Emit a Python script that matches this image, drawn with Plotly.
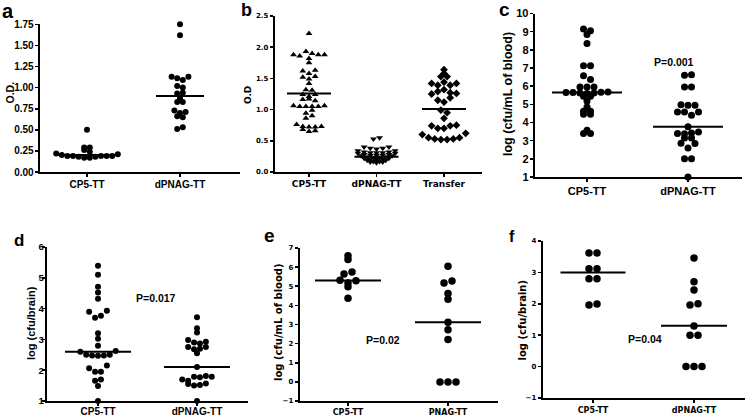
import plotly.graph_objects as go

W, H = 747, 419

# ---------------- data ----------------
# Each group lists its dots row by row (top to bottom, left to right inside a row).
a_categories = ["CP5-TT", "dPNAG-TT"]
a_cp5_tt = [[0.50], [0.29, 0.29], [0.26, 0.24],
            [0.22, 0.20, 0.19, 0.19, 0.18, 0.17, 0.17, 0.18, 0.19, 0.19, 0.19, 0.21]]
a_dpnag_tt = [[1.75], [1.62], [1.13, 1.11, 1.09, 1.13], [1.02, 1.00], [0.93, 0.94],
              [0.87], [0.83, 0.83], [0.73, 0.70, 0.71], [0.66, 0.65], [0.51, 0.53]]
a_medians = [0.20, 0.90]
a_yticks = [0, 0.25, 0.5, 0.75, 1.0, 1.25, 1.5, 1.75]

b_categories = ["CP5-TT", "dPNAG-TT", "Transfer"]
b_cp5_tt = [[2.22], [1.88, 1.86, 1.93, 1.90, 1.88, 1.88], [1.82], [1.75],
            [1.62, 1.58, 1.63], [1.52, 1.49, 1.53], [1.42], [1.32, 1.31],
            [1.24, 1.21, 1.24], [1.16, 1.17, 1.14], [1.06, 1.05, 1.05, 1.05, 1.05, 1.06],
            [0.94, 0.99], [0.86, 0.90], [0.76, 0.73, 0.72, 0.72, 0.73], [0.68, 0.65, 0.66]]
b_dpnag_tt = [[0.53, 0.55], [0.40, 0.38, 0.37, 0.38, 0.40],
              [0.34, 0.32, 0.31, 0.31, 0.31, 0.32, 0.34],
              [0.30, 0.28, 0.27, 0.27, 0.27, 0.28, 0.30],
              [0.26, 0.24, 0.23, 0.23, 0.24, 0.26],
              [0.22, 0.20, 0.20, 0.20, 0.22], [0.19, 0.17, 0.17, 0.19],
              [0.16, 0.15, 0.16]]
b_transfer = [[1.64], [1.58], [1.53, 1.53], [1.42, 1.39, 1.44, 1.39, 1.42],
              [1.25, 1.29, 1.32, 1.27, 1.26], [1.15, 1.12, 1.19], [0.99, 0.95], [0.86],
              [0.74, 0.70, 0.70, 0.74, 0.75], [0.60, 0.55, 0.53, 0.52, 0.52, 0.53, 0.55, 0.62]]
b_medians = [1.26, 0.245, 1.01]
b_yticks = [0, 0.5, 1.0, 1.5, 2.0, 2.5]

c_categories = ["CP5-TT", "dPNAG-TT"]
c_cp5_tt = [[9.15, 9.05], [8.85], [8.35], [7.12, 7.12], [6.57, 6.37], [5.96, 5.96, 5.96],
            [5.65, 5.65, 5.62, 5.60, 5.62, 5.67, 5.68], [5.45, 5.45], [5.19], [4.86],
            [4.62, 4.62], [4.45, 4.45], [3.57], [3.39, 3.39]]
c_dpnag_tt = [[6.60, 6.63], [5.96, 5.96], [4.98, 4.95, 4.95], [4.58, 4.58, 4.40, 4.58],
              [3.76], [3.40, 3.38, 3.42, 3.48], [3.15, 3.15], [2.86, 2.60, 2.84],
              [2.0, 2.0], [1.0]]
c_medians = [5.65, 3.76]
c_yticks = list(range(1, 11))

d_categories = ["CP5-TT", "dPNAG-TT"]
d_cp5_tt = [[5.39], [5.10], [4.71], [4.52], [4.32], [3.90, 3.70, 3.77, 3.93], [3.20],
            [3.02], [2.79], [2.60, 2.50, 2.48, 2.47, 2.48, 2.50, 2.62],
            [2.06, 1.95, 1.95, 2.15], [1.66, 1.70], [1.49], [1.0]]
d_dpnag_tt = [[3.72], [3.36], [3.22], [2.98, 2.90, 2.87, 2.92], [2.75, 2.68, 2.70, 2.75],
              [2.55], [2.10], [1.70, 1.66, 1.79, 1.77, 1.81, 1.79], [1.55, 1.50, 1.52, 1.57],
              [1.0]]
d_medians = [2.60, 2.10]
d_yticks = list(range(1, 7))

e_categories = ["CP5-TT", "PNAG-TT"]
e_cp5_tt = [[6.60], [6.40], [5.64, 5.74], [5.32, 5.17, 5.29], [4.98], [4.37]]
e_pnag_tt = [[6.05], [5.17, 5.27], [4.62], [4.32], [3.12], [2.72], [2.22], [0, 0, 0]]
e_medians = [5.30, 3.12]
e_yticks = list(range(-1, 8))

f_categories = ["CP5-TT", "dPNAG-TT"]
f_cp5_tt = [[3.62, 3.62], [3.12, 3.12], [2.80, 2.80], [1.96, 1.99]]
f_dpnag_tt = [[3.46], [2.70], [2.44], [1.96, 2.00], [1.29], [1.0, 1.0], [0, 0, 0]]
f_medians = [3.00, 1.30]
f_yticks = list(range(-1, 5))

# ---------------- styles / layout ----------------
ARIAL = "Liberation Sans, Arial, sans-serif"
DEJA = "DejaVu Sans, sans-serif"


def fnt(fam, size):
    return dict(family=fam, size=size, color="black", weight="bold")


panels = [
    dict(letter="a", cats=a_categories, groups=[a_cp5_tt, a_dpnag_tt], medians=a_medians,
         symbols=["circle", "circle"], msize=6, dot_px=5.6, half_px=[33, 24],
         x0=40, x1=240, cat0=87, step=93, ybot=172, ytop=24.3, yr=[0, 1.75],
         yticks=a_yticks, fmt=".2f", yfont=fnt(ARIAL, 10), xfont=fnt(ARIAL, 10),
         xstand=-1, ystand=-1,
         title="O.D.", tfont=fnt(ARIAL, 10.5), tpos=(9.5, 93),
         lpos=(0, 11), lsize=20),
    dict(letter="b", cats=b_categories, groups=[b_cp5_tt, b_dpnag_tt, b_transfer],
         medians=b_medians, symbols=["triangle-up", "triangle-down", "diamond"], msize=6,
         dot_px=6.2, half_px=[22, 22, 22],
         x0=275, x1=482, cat0=309, step=67.5, ybot=172, ytop=16, yr=[0, 2.5],
         yticks=b_yticks, fmt=".1f", yfont=fnt(DEJA, 7), xfont=fnt(DEJA, 9),
         xstand=-1, ystand=0,
         title="O.D", tfont=fnt(DEJA, 9), tpos=(248, 95),
         lpos=(239, 10), lsize=18),
    dict(letter="c", cats=c_categories, groups=[c_cp5_tt, c_dpnag_tt], medians=c_medians,
         symbols=["circle", "circle"], msize=7, dot_px=7, half_px=[35, 35],
         x0=535, x1=742, cat0=587, step=101, ybot=177, ytop=13.5, yr=[1, 10],
         yticks=c_yticks, fmt="d", yfont=fnt(ARIAL, 11), xfont=fnt(ARIAL, 11),
         xstand=-1, ystand=-1,
         title="log (cfu/mL of blood)", tfont=fnt(ARIAL, 12.5), tpos=(508, 94),
         lpos=(497, 9.5), lsize=19),
    dict(letter="d", cats=d_categories, groups=[d_cp5_tt, d_dpnag_tt], medians=d_medians,
         symbols=["circle", "circle"], msize=6, dot_px=5.9, half_px=[33, 33],
         x0=47, x1=248, cat0=98, step=99, ybot=401, ytop=247, yr=[1, 6],
         yticks=d_yticks, fmt="d", yfont=fnt(ARIAL, 9.5), xfont=fnt(ARIAL, 10),
         xstand=-3, ystand=-4,
         title="log (cfu/brain)", tfont=fnt(ARIAL, 11), tpos=(31, 323),
         lpos=(12, 241), lsize=17),
    dict(letter="e", cats=e_categories, groups=[e_cp5_tt, e_pnag_tt], medians=e_medians,
         symbols=["circle", "circle"], msize=7.5, dot_px=8, half_px=[33, 33],
         x0=300, x1=498, cat0=348, step=100, ybot=401, ytop=248, yr=[-1, 7],
         yticks=e_yticks, fmt="d", yfont=fnt(DEJA, 7), xfont=fnt(DEJA, 8),
         xstand=-1, ystand=0,
         title="log (cfu/mL of blood)", tfont=fnt(DEJA, 10), tpos=(278, 322),
         lpos=(262, 235.5), lsize=19),
    dict(letter="f", cats=f_categories, groups=[f_cp5_tt, f_dpnag_tt], medians=f_medians,
         symbols=["circle", "circle"], msize=7.5, dot_px=8, half_px=[32.5, 33],
         x0=543, x1=745, cat0=593, step=101, ybot=398, ytop=241, yr=[-1, 4],
         yticks=f_yticks, fmt="d", yfont=fnt(DEJA, 7), xfont=fnt(DEJA, 8),
         xstand=0, ystand=0,
         title="log (cfu/brain)", tfont=fnt(DEJA, 10), tpos=(521.5, 320),
         lpos=(507, 236.5), lsize=16),
]

p_values = [  # text, pixel centre
    ("P=0.001", (673.7, 62)),
    ("P=0.017", (156, 298)),
    ("P=0.02", (383, 340)),
    ("P=0.04", (645, 338.5)),
]


def swarm(rows, cat, step, dot_px):
    xs, ys = [], []
    for row in rows:
        n = len(row)
        for i, v in enumerate(row):
            xs.append(cat + (i - (n - 1) / 2) * dot_px / step)
            ys.append(v)
    return xs, ys


fig = go.Figure()
layout = dict(width=W, height=H, margin=dict(l=0, r=0, t=0, b=0, autoexpand=False),
              paper_bgcolor="white", plot_bgcolor="white", showlegend=False,
              annotations=[])

for k, p in enumerate(panels):
    sfx = "" if k == 0 else str(k + 1)
    xa, ya = "x" + sfx, "y" + sfx
    for g, rows in enumerate(p["groups"]):
        cat = g + 1
        xs, ys = swarm(rows, cat, p["step"], p["dot_px"])
        fig.add_trace(go.Scatter(
            x=xs, y=ys, mode="markers", xaxis=xa, yaxis=ya, cliponaxis=False,
            marker=dict(symbol=p["symbols"][g], size=p["msize"], color="black",
                        line=dict(width=0)),
            hoverinfo="skip"))
        hw = p["half_px"][g] / p["step"]
        m = p["medians"][g]
        fig.add_trace(go.Scatter(
            x=[cat - hw, cat + hw], y=[m, m], mode="lines", xaxis=xa, yaxis=ya,
            cliponaxis=False, line=dict(color="black", width=2), hoverinfo="skip"))

    lo = 1 - (p["cat0"] - p["x0"]) / p["step"]
    hi = 1 + (p["x1"] - p["cat0"]) / p["step"]
    axis_common = dict(showgrid=False, zeroline=False, showline=True, linecolor="black",
                       linewidth=1.8, ticks="outside", ticklen=3.5, tickwidth=1.6,
                       tickcolor="black", fixedrange=True, automargin=False)
    layout["xaxis" + sfx] = dict(
        domain=[p["x0"] / W, p["x1"] / W], range=[lo, hi], anchor=ya,
        tickmode="array", tickvals=list(range(1, len(p["cats"]) + 1)), ticktext=p["cats"],
        tickfont=p["xfont"], ticklabelstandoff=p["xstand"], **axis_common)
    layout["yaxis" + sfx] = dict(
        domain=[1 - p["ybot"] / H, 1 - p["ytop"] / H], range=p["yr"], anchor=xa,
        tickmode="array", tickvals=p["yticks"], tickformat=p["fmt"],
        tickfont=p["yfont"], ticklabelstandoff=p["ystand"], **axis_common)

    tx, ty = p["tpos"]
    layout["annotations"].append(dict(
        text=p["title"], xref="paper", yref="paper", x=tx / W, y=1 - ty / H,
        xanchor="center", yanchor="middle", textangle=-90, showarrow=False,
        font=p["tfont"]))
    lx, ly = p["lpos"]
    layout["annotations"].append(dict(
        text=p["letter"], xref="paper", yref="paper", x=lx / W, y=1 - ly / H,
        xanchor="left", yanchor="middle", showarrow=False,
        font=fnt(ARIAL, p["lsize"])))

for text, (px, py) in p_values:
    layout["annotations"].append(dict(
        text=text, xref="paper", yref="paper", x=px / W, y=1 - py / H,
        xanchor="center", yanchor="middle", showarrow=False, font=fnt(ARIAL, 10.5)))

fig.update_layout(**layout)
fig.write_html("out.html", config={"staticPlot": True},
               post_script="document.body.style.margin='0';document.body.style.overflow='hidden';")
